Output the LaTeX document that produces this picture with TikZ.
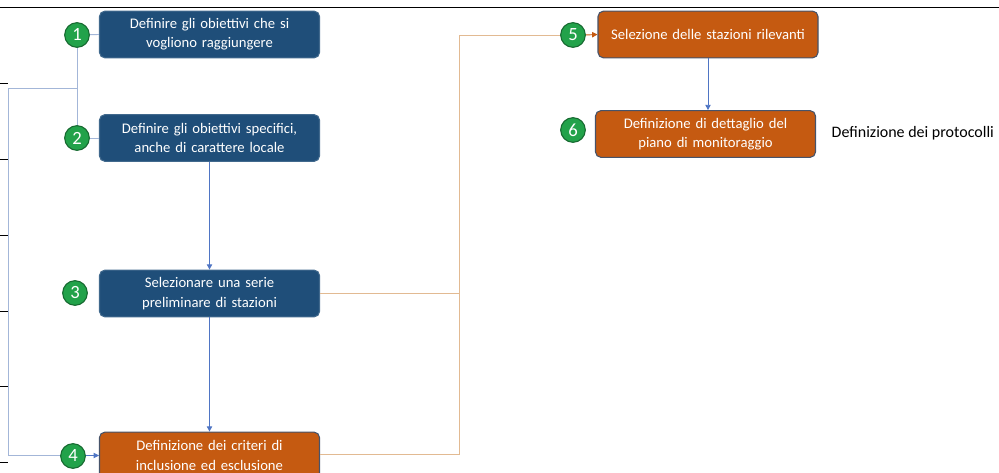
\documentclass[tikz,border=0pt]{standalone}
\usepackage{fontspec}
\setmainfont{Carlito}
\usetikzlibrary{arrows.meta}
\definecolor{stepblue}{HTML}{1F4E79}
\definecolor{steporange}{HTML}{C55A11}
\definecolor{numgreen}{HTML}{22A24A}
\definecolor{lineblue}{HTML}{A3B6D8}
\definecolor{arrowblue}{HTML}{4F75C4}
\definecolor{linetan}{HTML}{E2BA92}

\begin{document}
\begin{tikzpicture}[x=0.75pt,y=-0.75pt]
          \tikzstyle{every node}=[font=\fontsize{11}{14.5}\selectfont]
          \tikzstyle{stepbox}=[rounded corners=4pt,minimum width=165pt,minimum height=35pt,text width=160pt,align=center,text=white,inner sep=0pt,line width=0.8pt]
          \tikzstyle{bluebox}=[stepbox,fill=stepblue,draw=stepblue!85!white]
          \tikzstyle{orangebox}=[stepbox,fill=steporange,draw={rgb,255:red,70;green,83;blue,106}]
          \tikzstyle{num}=[circle,fill=numgreen,draw=numgreen!65!black,line width=0.8pt,minimum size=18.5pt,inner sep=0pt,text=white,font=\fontsize{14}{14}\selectfont]
          \tikzstyle{bline}=[lineblue,line width=0.7pt]
          \tikzstyle{barrow}=[arrowblue,line width=0.7pt,-{Triangle[length=4pt,width=4pt]}]
          \tikzstyle{oline}=[linetan,line width=0.7pt]
          \useasboundingbox (0,0) rectangle (999,473);
          % page rules
          \draw[line width=0.7pt] (0,7) -- (999,7);
          \foreach \y in {83,159,235,311,386,462} \draw[line width=0.5pt] (0,\y) -- (8,\y);
          % steps
          \node[bluebox] (b1) at (209.5,34.5) {Definire gli obiettivi che si\\vogliono raggiungere};
          \node[bluebox] (b2) at (209.5,138) {Definire gli obiettivi specifici,\\anche di carattere locale};
          \node[bluebox] (b3) at (209.5,293.5) {Selezionare una serie\\preliminare di stazioni};
          \node[orangebox] (b4) at (209.5,455.5) {Definizione dei criteri di\\inclusione ed esclusione};
          \node[orangebox] (b5) at (708,34.5) {Selezione delle stazioni rilevanti};
          \node[orangebox] (b6) at (705.5,134) {Definizione di dettaglio del\\piano di monitoraggio};
          \node[anchor=west,font=\fontsize{12}{14}\selectfont] (prot) at (827,133) {Definizione dei protocolli};
          % connectors
          \coordinate (j1) at (77,88);
          \coordinate (j2) at (8,88);
          \coordinate (o) at (459,454);
          \draw[bline] (77,35) -- (77,138);
          \draw[bline] (j1) -- (j2) |- (b4.west);
          \draw[barrow] (60,455.5) -- (b4.west);
          \draw[bline] (77,35) -- (b1.west);
          \draw[bline] (77,138) -- (b2.west);
          \draw[barrow] (b2.south) -- (b3.north);
          \draw[barrow] (b3.south) -- (b4.north);
          \draw[barrow] (b5.south) -- (b5.south |- b6.north);
          \draw[oline] (b3.east) -- (b3.east -| o);
          \draw[oline] (b4.east |- o) -- (o) |- (573,35);
          \draw[steporange,line width=0.7pt,-{Triangle[length=4pt,width=4pt]}] (585,35) -- (b5.west);
          % numbers
          \node[num] (c1) at (77,35) {1};
          \node[num] (c2) at (77,138) {2};
          \node[num] (c3) at (75,293) {3};
          \node[num] (c4) at (73,456) {4};
          \node[num] (c5) at (573,35) {5};
          \node[num] (c6) at (573,130) {6};
      \end{tikzpicture}
\end{document}
